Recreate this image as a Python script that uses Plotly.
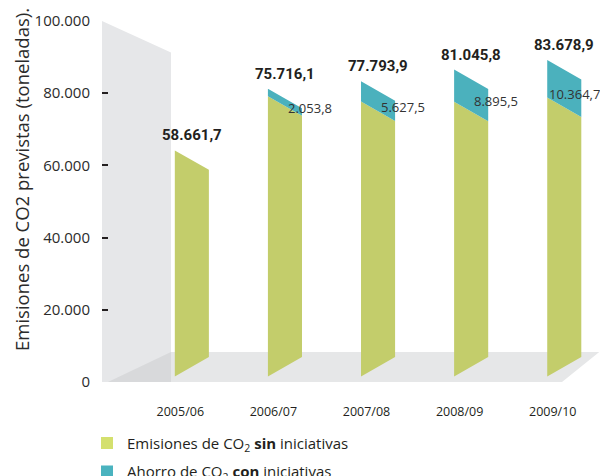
import plotly.graph_objects as go

# ---------------- data ----------------
categories = ["2005/06", "2006/07", "2007/08", "2008/09", "2009/10"]
emissions_without = [58661.7, 75716.1, 77793.9, 81045.8, 83678.9]   # total bar height (label on top)
savings_with = [0.0, 2053.8, 5627.5, 8895.5, 10364.7]               # blue segment
y_tick_values = [0, 20000, 40000, 60000, 80000, 100000]
y_tick_labels = ["0", "20.000", "40.000", "60.000", "80.000", "100.000"]
series_names = ["Emisiones de CO<sub>2</sub> <b>sin</b> iniciativas",
                "Ahorro de CO<sub>2</sub> <b>con</b> iniciativas"]

# ---------------- style / geometry ----------------
GREEN = "#c3cd6b"
BLUE = "#4bb1bd"
LEG_GREEN = "#d4e06e"
LEG_BLUE = "#4ab3bf"
TXT = "#231f20"
X_RANGE = [-0.841, 4.583]
Y_RANGE = [0, 100000]
BAR_OFFSET = 0.124      # bars sit slightly right of their category label
BAR_HALF = 0.183        # half bar width (axis units)
SKEW = 5400             # perspective slant of bar top/bottom
BASE = 1500             # bar bottom (front-left corner)
LIFT = 5500             # perspective lift of bar tops
LABEL_INSET = 0.17
LABEL_WIDTH = 0.53      # approx. width of a value label in axis units


def es(v):
    s = f"{v:,.1f}"
    return s.replace(",", "X").replace(".", ",").replace("X", ".")


green_x, green_y, blue_x, blue_y = [], [], [], []
annotations = []
for i, (cat, tot, sav) in enumerate(zip(categories, emissions_without, savings_with)):
    c = i + BAR_OFFSET
    xl, xr = c - BAR_HALF, c + BAR_HALF
    g = tot - sav
    green_x += [xl, xr, xr, xl, xl, None]
    green_y += [BASE, BASE + SKEW, g + LIFT - SKEW, g + LIFT, BASE, None]
    if sav > 0:
        blue_x += [xl, xr, xr, xl, xl, None]
        blue_y += [g + LIFT, g + LIFT - SKEW, tot + LIFT - SKEW, tot + LIFT, g + LIFT, None]
        lx = xr - LABEL_INSET
        if lx + LABEL_WIDTH > X_RANGE[1]:          # keep the label inside the chart
            lx, anchor, shift = X_RANGE[1], "right", -5
        else:
            anchor, shift = "left", 0
        annotations.append(dict(
            x=lx, y=(g + tot) / 2 + LIFT - SKEW, xref="x", yref="y",
            text=es(sav), showarrow=False, xanchor=anchor, xshift=shift, yanchor="middle", yshift=4,
            font=dict(family="Open Sans", size=13, color="#333333")))
    annotations.append(dict(
        x=c, y=tot + LIFT, xref="x", yref="y", text=es(tot), showarrow=False,
        xanchor="center", yanchor="bottom", yshift=4,
        font=dict(family="Roboto", size=15, color=TXT, weight="bold")))

annotations.append(dict(
    text="Emisiones de CO2 previstas (toneladas).", textangle=-90,
    xref="paper", yref="paper", x=0, y=0.5596, xshift=-80,
    xanchor="center", yanchor="middle", showarrow=False,
    font=dict(family="Open Sans", size=18.5, color="#2b2b2b")))

fig = go.Figure()
fig.add_trace(go.Scatter(x=green_x, y=green_y, fill="toself", fillcolor=GREEN, mode="lines",
                         line=dict(width=0), hoverinfo="skip", showlegend=False))
fig.add_trace(go.Scatter(x=blue_x, y=blue_y, fill="toself", fillcolor=BLUE, mode="lines",
                         line=dict(width=0), hoverinfo="skip", showlegend=False))
# legend entries
fig.add_trace(go.Bar(x=[None], y=[None], name=series_names[0], marker=dict(color=LEG_GREEN, line=dict(width=0)),
                     legendgroup="a"))
fig.add_trace(go.Bar(x=[None], y=[None], name=series_names[1], marker=dict(color=LEG_BLUE, line=dict(width=0)),
                     legendgroup="b"))

# back wall and floor (decoration)
WALL_R = -0.10
FLOOR_BACK = 8300
shapes = [
    dict(type="path", xref="x", yref="y", layer="below", line=dict(width=0), fillcolor="#e6e7e9",
         path=f"M{X_RANGE[0]},0 L{X_RANGE[0]},100000 L{WALL_R},91300 L{WALL_R},{FLOOR_BACK} L{WALL_R},0 Z"),
    dict(type="path", xref="x", yref="y", layer="below", line=dict(width=0), fillcolor="#d8d9db",
         path=f"M-0.777,0 L{WALL_R},{FLOOR_BACK} L{WALL_R},0 Z"),
    dict(type="path", xref="x", yref="y", layer="below", line=dict(width=0), fillcolor="#e6e7e8",
         path=f"M{WALL_R},0 L{WALL_R},{FLOOR_BACK} L4.50,{FLOOR_BACK} L4.10,0 Z"),
]

# the page adds an 8px body margin, so the figure is sized to fit the visible window
fig.update_layout(
    width=600, height=468,
    margin=dict(l=94, r=1, t=13, b=94, autoexpand=False),
    paper_bgcolor="white", plot_bgcolor="white",
    shapes=shapes, annotations=annotations,
    showlegend=True,
    legend=dict(x=-0.0297, xanchor="left", y=-0.124, yanchor="top",
                font=dict(family="Open Sans", size=15, color=TXT),
                bgcolor="rgba(0,0,0,0)", traceorder="grouped", tracegroupgap=6),
    xaxis=dict(type="linear", range=X_RANGE, tickvals=list(range(len(categories))), ticktext=categories,
               showgrid=False, zeroline=False, showline=False, ticks="", ticklabelstandoff=20,
               tickfont=dict(family="Open Sans", size=12.5, color=TXT), fixedrange=True),
    yaxis=dict(range=Y_RANGE, tickvals=y_tick_values, ticktext=y_tick_labels,
               showgrid=False, zeroline=False, showline=False, ticks="inside", ticklen=6, tickwidth=2,
               tickcolor=TXT, ticklabelstandoff=11,
               tickfont=dict(family="Open Sans", size=15, color="#2b2b2b"), fixedrange=True),
)

fig.write_html("out.html")
